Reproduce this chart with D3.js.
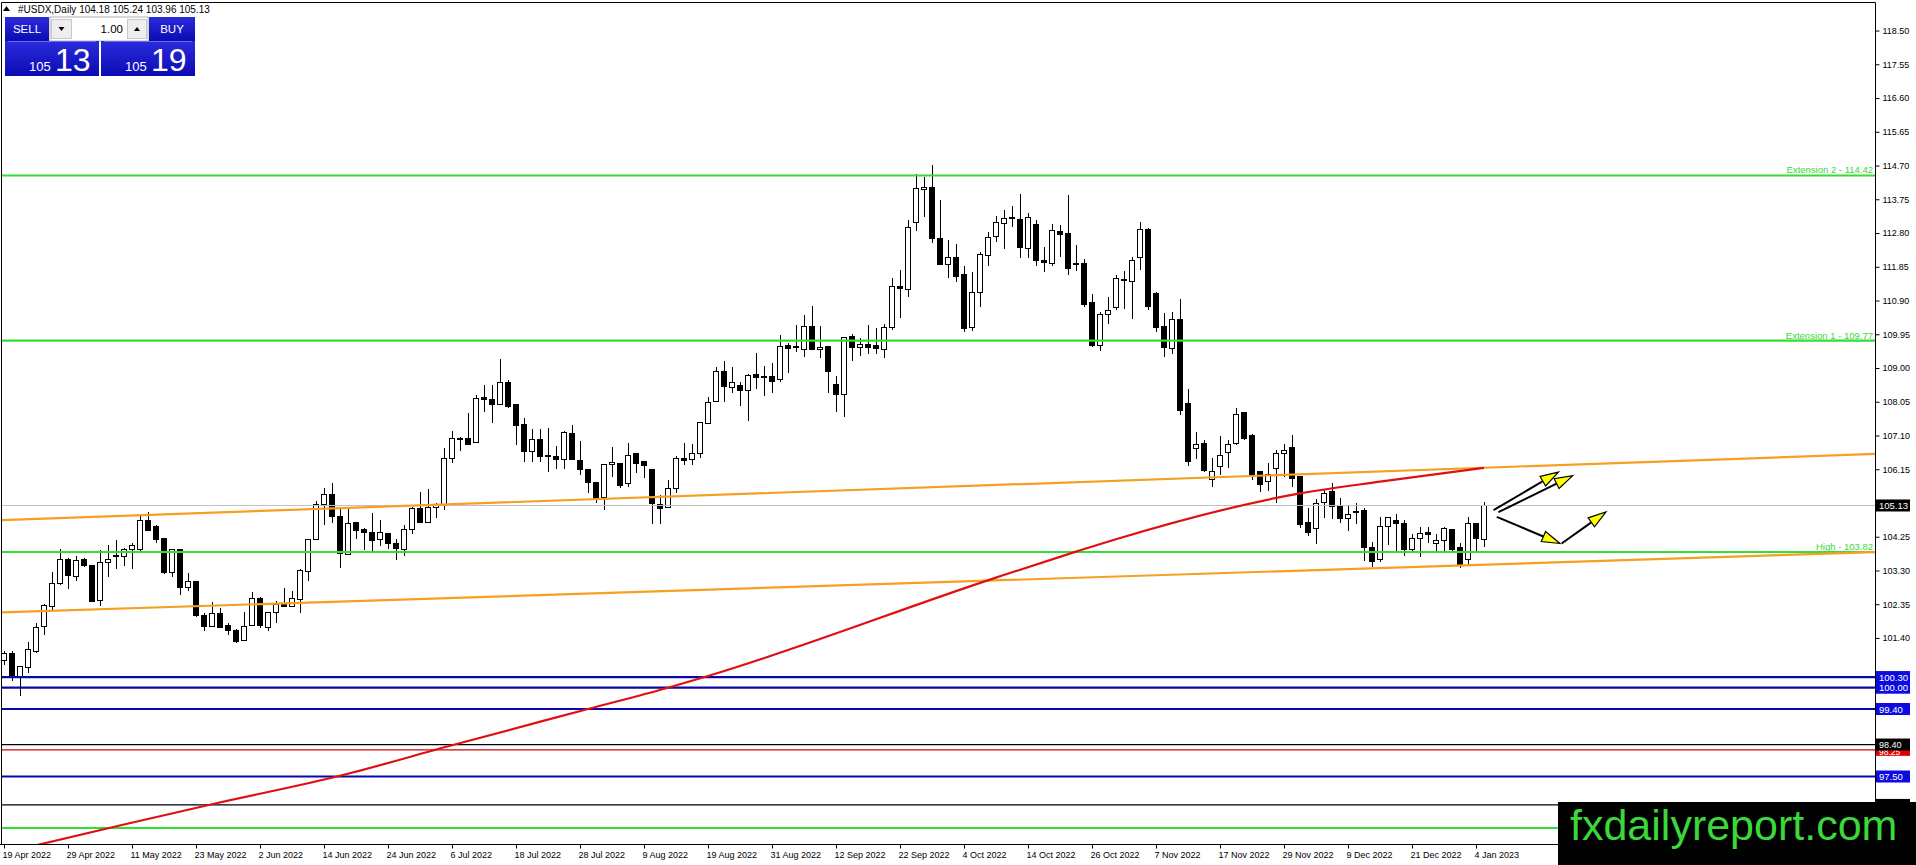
<!DOCTYPE html>
<html>
<head>
<meta charset="utf-8">
<script src="https://cdn.jsdelivr.net/npm/d3@7"></script>
<style>
  html, body { margin: 0; padding: 0; background: #fff; overflow: hidden; }
  svg { display: block; }
  text { font-family: "Liberation Sans", Arial, sans-serif; }
</style>
</head>
<body>
<div id="chart"></div>
<script>
// ---- data ----
const symbol = "#USDX,Daily";
const lastQuote = [104.18, 105.24, 103.96, 105.13];   // O H L C of the current bar
const bidParts = ["105", "13"];
const askParts = ["105", "19"];
const lotSize = "1.00";

// daily bars, 19 Apr 2022 .. 5 Jan 2023 (bar index 0 .. 185)
const opens = [
  100.76,100.97,100.31,100.57,101.02,101.72,102.28,102.94,103.61,103.13,
  103.60,103.43,102.45,103.53,103.69,103.69,103.88,103.88,104.72,104.55,
  104.19,103.24,103.88,102.83,103.00,102.03,101.72,102.09,101.74,101.61,
  101.33,101.74,102.52,101.70,102.11,102.38,102.28,102.49,103.27,104.18,
  105.16,105.45,104.83,103.76,104.65,104.44,104.37,104.18,104.35,104.07,
  103.90,104.46,105.05,104.65,105.07,105.14,106.46,107.02,107.02,106.90,
  108.17,108.10,107.98,108.60,107.96,107.40,106.65,106.99,106.55,106.50,
  106.43,107.16,106.41,106.13,105.77,105.35,106.29,106.32,105.74,106.58,
  106.36,106.13,105.17,105.08,105.61,106.46,106.43,106.60,107.44,108.06,
  108.90,108.46,108.51,108.38,108.82,108.72,108.76,108.67,109.62,109.58,
  109.53,110.17,109.51,109.60,108.54,108.26,109.88,109.58,109.67,109.62,
  109.53,110.15,111.29,111.22,113.11,114.03,114.09,112.65,111.90,112.12,
  111.62,110.15,111.12,112.17,112.70,113.08,113.21,113.19,112.37,113.03,
  112.04,111.95,112.84,112.79,111.95,111.95,110.85,109.63,110.52,110.71,
  111.48,111.43,112.12,112.91,111.09,110.17,109.56,110.37,108.01,106.74,
  106.88,105.85,106.22,106.62,106.88,107.76,107.09,106.08,105.80,106.18,
  106.60,106.77,105.94,104.66,104.49,105.22,105.52,105.10,104.77,104.95,
  104.98,103.94,103.60,104.53,104.72,104.63,103.90,104.19,104.36,104.06,
  104.14,104.44,103.95,103.61,104.63,104.18
];
const highs = [
  101.02,101.02,100.62,101.30,101.81,102.35,103.27,103.90,103.65,103.71,
  103.64,103.45,103.88,104.02,104.16,103.93,104.07,104.86,104.96,104.58,
  104.20,103.90,103.90,103.22,103.00,102.10,102.40,102.25,101.81,101.65,
  102.14,102.69,102.56,102.14,102.45,102.80,102.73,103.33,104.18,105.25,
  105.61,105.76,105.10,105.02,104.65,104.49,104.91,104.72,104.35,104.18,
  104.58,105.10,105.50,105.60,105.21,106.74,107.23,107.07,107.73,108.24,
  108.52,108.52,109.26,108.66,107.96,107.58,107.27,107.27,107.30,106.80,
  107.23,107.40,106.95,106.13,105.77,106.29,106.79,106.32,106.88,106.60,
  106.37,106.16,105.43,105.85,106.52,106.88,106.86,107.49,108.18,109.04,
  109.21,109.04,108.62,108.83,109.42,109.06,109.13,109.93,109.70,110.21,
  110.49,110.75,110.17,109.60,108.78,109.88,109.96,109.84,110.21,110.12,
  110.24,111.53,111.76,113.17,114.46,114.39,114.72,113.73,112.61,112.48,
  111.86,111.69,112.26,112.84,113.28,113.45,113.55,113.89,113.36,113.17,
  112.40,113.06,113.03,113.87,112.46,112.06,111.09,110.59,111.01,111.62,
  111.74,112.12,113.10,112.93,111.15,110.54,110.59,110.94,108.40,107.21,
  106.97,106.46,107.09,106.98,107.87,107.76,107.14,106.08,106.32,106.69,
  106.85,107.11,105.94,105.07,105.31,105.57,105.75,105.35,105.14,105.19,
  105.05,104.11,104.81,104.81,104.88,104.72,104.34,104.53,104.53,104.34,
  104.53,104.44,104.06,104.81,104.63,105.24
];
const lows = [
  100.64,100.19,99.77,100.40,100.99,101.47,102.19,102.90,102.77,103.00,
  103.40,102.42,102.30,103.13,103.34,103.43,103.33,103.83,104.42,104.08,
  103.19,103.13,102.61,102.73,102.00,101.61,101.72,101.69,101.49,101.25,
  101.33,101.74,101.67,101.61,101.81,102.28,102.28,102.11,102.99,104.18,
  104.58,104.63,103.38,103.76,104.18,103.88,103.85,103.99,103.90,103.60,
  103.71,104.32,104.65,104.65,104.77,104.99,106.32,106.65,106.85,106.88,
  107.77,107.44,107.98,107.87,106.83,106.34,106.34,106.36,106.06,106.15,
  106.15,106.43,105.99,105.49,105.19,104.99,105.92,105.61,105.66,106.04,
  105.91,104.61,104.61,105.05,105.47,106.27,106.27,106.46,107.43,108.03,
  108.03,108.31,107.93,107.52,108.40,108.21,108.31,108.62,108.87,109.46,
  109.32,109.51,109.28,108.31,107.75,107.63,109.21,109.35,109.40,109.40,
  109.28,110.07,110.40,111.01,112.87,113.26,112.51,111.92,111.53,111.41,
  110.00,110.03,110.71,111.87,112.56,112.34,112.98,112.09,112.09,111.86,
  111.71,111.86,112.12,111.62,111.74,110.71,109.58,109.49,110.24,110.64,
  110.65,110.37,111.76,110.64,110.00,109.30,109.40,107.68,106.24,106.43,
  106.06,105.66,105.99,106.18,106.83,106.96,105.85,105.52,105.55,105.21,
  105.94,105.66,104.50,104.28,104.04,104.79,104.75,104.63,104.41,104.60,
  103.57,103.41,103.55,104.02,103.78,103.72,103.85,103.69,104.06,103.85,
  103.85,103.85,103.36,103.45,103.78,103.96
];
const closes = [
  100.97,100.31,100.59,101.08,101.70,102.32,102.94,103.61,103.15,103.57,
  103.44,102.44,103.53,103.61,103.71,103.90,103.99,104.72,104.42,104.16,
  103.24,103.88,102.83,102.99,102.03,101.72,102.09,101.69,101.61,101.30,
  101.72,102.52,101.74,102.11,102.35,102.28,102.52,103.29,104.16,105.16,
  105.43,104.82,103.78,104.61,104.42,104.37,104.14,104.38,104.07,103.91,
  104.46,105.05,104.65,105.08,105.12,106.46,107.02,107.00,106.85,108.15,
  108.12,107.98,108.60,107.91,107.38,106.65,106.99,106.51,106.50,106.43,
  107.19,106.43,106.13,105.77,105.33,106.29,106.35,105.68,106.55,106.32,
  106.25,105.19,105.05,105.61,106.46,106.40,106.60,107.47,108.03,108.90,
  108.48,108.60,108.38,108.79,108.73,108.76,108.62,109.60,109.55,109.60,
  110.17,109.53,109.58,108.90,108.26,109.87,109.58,109.67,109.58,109.55,
  110.15,111.29,111.25,112.95,114.06,114.09,112.65,111.92,112.12,111.57,
  110.12,111.12,112.20,112.68,113.11,113.22,113.23,112.39,113.24,112.02,
  111.98,112.86,112.77,111.81,111.90,110.80,109.63,110.52,110.63,111.53,
  111.50,112.04,112.91,110.73,110.15,109.58,110.37,107.80,106.37,106.85,
  106.11,106.08,106.53,106.84,107.68,107.02,105.99,105.73,105.99,106.58,
  106.69,105.89,104.60,104.37,105.19,105.47,105.10,104.77,104.88,104.97,
  103.94,103.55,104.53,104.79,104.63,103.90,104.20,104.34,104.30,104.14,
  104.49,103.90,103.44,104.63,104.19,105.13
];

const dateTicks = ["19 Apr 2022","29 Apr 2022","11 May 2022","23 May 2022","2 Jun 2022",
  "14 Jun 2022","24 Jun 2022","6 Jul 2022","18 Jul 2022","28 Jul 2022","9 Aug 2022",
  "19 Aug 2022","31 Aug 2022","12 Sep 2022","22 Sep 2022","4 Oct 2022","14 Oct 2022",
  "26 Oct 2022","7 Nov 2022","17 Nov 2022","29 Nov 2022","9 Dec 2022","21 Dec 2022","4 Jan 2023"];
const dateTickBars = [0,8,16,24,32,40,48,56,64,72,80,88,96,104,112,120,128,136,144,152,160,168,176,184];

const priceTicks = [118.50,117.55,116.60,115.65,114.70,113.75,112.80,111.85,110.90,109.95,
  109.00,108.05,107.10,106.15,105.20,104.25,103.30,102.35,101.40,100.45,99.50,98.55,97.60,96.65];

// horizontal levels
const greenLevels = [114.42, 109.77, 103.82, 96.05];
const greenLabels = ["Extension 2 - 114.42", "Extension 1 - 109.77", "High - 103.82", ""];
const blueLevels = [100.30, 100.00, 99.40, 97.50];
const blackLevels = [98.40, 96.70];
const redLevels = [98.25];

// channel trendlines, [bar index, price]
const upperChannel = [[0, 104.72], [230, 106.55]];
const lowerChannel = [[0, 102.12], [230, 103.79]];

// 200-day moving average, [bar index, price]
const sma200 = [[0, 95.35], [15, 96.15], [26, 96.72], [42, 97.52], [56, 98.38], [73, 99.40],
  [83, 100.00], [88, 100.33], [124, 103.10], [134, 103.83], [139, 104.18], [162, 105.47],
  [172, 105.80], [185, 106.19]];

// drawn arrows, [bar index, price]
const arrowFrom = [[186.2, 105.00], [186.8, 104.94], [186.6, 104.81], [194.7, 104.06]];
const arrowTo   = [[194.3, 106.07], [196.1, 105.97], [194.5, 104.06], [200.25, 104.95]];

// ---- layout ----
const W = 1916, H = 865;
const plotRight = 1875, plotBottom = 844;
const markTop = 802;   // top of the watermark box

const svg = d3.select("#chart").append("svg")
    .attr("width", W)
    .attr("height", H);

svg.append("rect").attr("width", W).attr("height", H).attr("fill", "#fff");

const xScale = d3.scaleLinear().domain([0, 185]).range([4, 1484]);
const yScale = d3.scaleLinear().domain([95.60, 119.36]).range([plotBottom, 0]);

svg.append("clipPath").attr("id", "plotClip")
    .append("rect").attr("x", 2).attr("y", 2).attr("width", plotRight - 2).attr("height", plotBottom - 2);

const plot = svg.append("g").attr("clip-path", "url(#plotClip)");

// candles
const bars = d3.range(opens.length).map(i => ({
    i, o: opens[i], h: highs[i], l: lows[i], c: closes[i]
}));

const candles = plot.append("g").attr("shape-rendering", "crispEdges");

candles.selectAll(".wick")
    .data(bars)
    .enter()
    .append("line")
    .attr("class", "wick")
    .attr("x1", d => xScale(d.i))
    .attr("x2", d => xScale(d.i))
    .attr("y1", d => yScale(d.h))
    .attr("y2", d => yScale(d.l))
    .attr("stroke", "#000")
    .attr("stroke-width", 1);

candles.selectAll(".body")
    .data(bars)
    .enter()
    .append("rect")
    .attr("class", "body")
    .attr("x", d => xScale(d.i) - 2.5)
    .attr("width", 5)
    .attr("y", d => yScale(Math.max(d.o, d.c)))
    .attr("height", d => Math.max(1, yScale(Math.min(d.o, d.c)) - yScale(Math.max(d.o, d.c))))
    .attr("fill", d => d.c >= d.o ? "#fff" : "#000")
    .attr("stroke", "#000")
    .attr("stroke-width", 1);

// horizontal levels
function hLine(v, color, width) {
    plot.append("line")
        .attr("x1", 0).attr("x2", plotRight)
        .attr("y1", yScale(v)).attr("y2", yScale(v))
        .attr("stroke", color)
        .attr("stroke-width", width);
}

hLine(lastQuote[3], "#c0c0c0", 1);
blueLevels.forEach(v => hLine(v, "#0808a8", 2.2));
blackLevels.forEach(v => hLine(v, "#000", 1.2));
redLevels.forEach(v => hLine(v, "#d40000", 1.2));
greenLevels.forEach(v => hLine(v, "#33dd33", 2.2));

greenLabels.forEach((t, k) => {
    if (!t) return;
    plot.append("text")
        .attr("x", plotRight - 2)
        .attr("y", yScale(greenLevels[k]) - 2)
        .attr("text-anchor", "end")
        .style("font-size", "9.5px")
        .attr("fill", "#3ad63a")
        .text(t);
});

// channel lines, extended across the plot
function ray(pts, color) {
    const [[i0, v0], [i1, v1]] = pts;
    const at = i => v0 + (v1 - v0) * (i - i0) / (i1 - i0);
    const a = -2, b = xScale.invert(plotRight) + 2;
    plot.append("line")
        .attr("x1", xScale(a)).attr("y1", yScale(at(a)))
        .attr("x2", xScale(b)).attr("y2", yScale(at(b)))
        .attr("stroke", color)
        .attr("stroke-width", 2.2);
}
ray(upperChannel, "#f5a021");
ray(lowerChannel, "#f5a021");

// 200 MA
const maLine = d3.line()
    .x(d => xScale(d[0]))
    .y(d => yScale(d[1]))
    .curve(d3.curveMonotoneX);

plot.append("path")
    .datum(sma200)
    .attr("fill", "none")
    .attr("stroke", "#e01010")
    .attr("stroke-width", 2.2)
    .attr("d", maLine);

// arrows
arrowFrom.forEach((p, k) => {
    const q = arrowTo[k];
    const x1 = xScale(p[0]), y1 = yScale(p[1]);
    const x2 = xScale(q[0]), y2 = yScale(q[1]);
    const len = Math.hypot(x2 - x1, y2 - y1);
    const ux = (x2 - x1) / len, uy = (y2 - y1) / len;
    const L = 18, Wd = 5.5;
    const bx = x2 - ux * L, by = y2 - uy * L;
    plot.append("line")
        .attr("x1", x1).attr("y1", y1)
        .attr("x2", bx).attr("y2", by)
        .attr("stroke", "#000")
        .attr("stroke-width", 2);
    plot.append("path")
        .attr("d", `M${x2},${y2}L${bx - uy * Wd},${by + ux * Wd}L${bx + uy * Wd},${by - ux * Wd}Z`)
        .attr("fill", "#ffff00")
        .attr("stroke", "#000")
        .attr("stroke-width", 1.2);
});

// frame
svg.append("path")
    .attr("d", `M1.5,${plotBottom}V2.5H${plotRight + 0.5}V${plotBottom + 0.5}H0`)
    .attr("fill", "none")
    .attr("stroke", "#000")
    .attr("stroke-width", 1);

// price axis; tick labels that sit under a price tag are left blank
const tagLevels = [...redLevels, ...blackLevels, ...blueLevels, lastQuote[3]];
const underTag = v => tagLevels.some(t => Math.abs(yScale(t) - yScale(v)) < 11);

const yAxis = svg.append("g")
    .attr("transform", `translate(${plotRight + 0.5},0)`)
    .call(d3.axisRight(yScale).tickValues(priceTicks).tickSize(4)
        .tickFormat(d => underTag(d) ? "" : d3.format(".2f")(d)));
yAxis.select(".domain").remove();
yAxis.selectAll("text").style("font-size", "9px").attr("fill", "#000")
    .style("font-family", "'Liberation Sans', Arial, sans-serif");

// date axis
const xAxis = svg.append("g")
    .attr("transform", `translate(0,${plotBottom + 0.5})`)
    .call(d3.axisBottom(xScale).tickValues(dateTickBars).tickSize(4).tickFormat((d, k) => dateTicks[k]));
xAxis.select(".domain").remove();
xAxis.selectAll("text")
    .style("font-size", "9px")
    .style("font-family", "'Liberation Sans', Arial, sans-serif")
    .attr("fill", "#000")
    .attr("text-anchor", "start")
    .attr("dx", "-2");

// price tags on the axis (a tag hidden by the watermark gets no text)
function tag(v, bg, dy, size) {
    const y = yScale(v);
    svg.append("rect")
        .attr("x", plotRight + 1).attr("y", y - 6)
        .attr("width", 34).attr("height", 12)
        .attr("fill", bg);
    if (y > markTop - 2) return;
    svg.append("text")
        .attr("x", plotRight + 4).attr("y", y + dy)
        .style("font-size", size)
        .attr("fill", "#fff")
        .text(v.toFixed(2));
}
redLevels.forEach(v => tag(v, "#e00000", 5.5, "8.5px"));
blackLevels.forEach(v => tag(v, "#000", 3, "9px"));
blueLevels.forEach(v => tag(v, "#0c0ce0", 3.5, "9.5px"));
tag(lastQuote[3], "#000", 3.5, "9.5px");

// header line
svg.append("path").attr("d", "M3,11L6.5,6L10,11Z").attr("fill", "#000");
svg.append("text")
    .attr("x", 18).attr("y", 13)
    .style("font-size", "10px")
    .attr("fill", "#000")
    .text(`${symbol}  ${lastQuote.map(d => d.toFixed(2)).join(" ")}`);

// one-click trading panel
const panel = svg.append("g");
const grad = svg.append("defs").append("linearGradient")
    .attr("id", "btnBlue").attr("x1", 0).attr("x2", 0).attr("y1", 0).attr("y2", 1);
grad.append("stop").attr("offset", "0%").attr("stop-color", "#2b2bdc");
grad.append("stop").attr("offset", "100%").attr("stop-color", "#0b0bb4");

panel.append("rect").attr("x", 5).attr("y", 17).attr("width", 44).attr("height", 24).attr("fill", "url(#btnBlue)");
panel.append("rect").attr("x", 149).attr("y", 17).attr("width", 46).attr("height", 24).attr("fill", "url(#btnBlue)");
panel.append("text").attr("x", 27).attr("y", 33).attr("text-anchor", "middle")
    .style("font-size", "11.5px").attr("fill", "#fff").text("SELL");
panel.append("text").attr("x", 172).attr("y", 33).attr("text-anchor", "middle")
    .style("font-size", "11.5px").attr("fill", "#fff").text("BUY");

panel.append("rect").attr("x", 50).attr("y", 17).attr("width", 98).attr("height", 24)
    .attr("fill", "#fff").attr("stroke", "#b0b0b0");
panel.append("rect").attr("x", 51.5).attr("y", 19.5).attr("width", 20).attr("height", 19)
    .attr("fill", "#eeeeee").attr("stroke", "#c8c8c8");
panel.append("rect").attr("x", 127.5).attr("y", 19.5).attr("width", 19).attr("height", 19)
    .attr("fill", "#eeeeee").attr("stroke", "#c8c8c8");
panel.append("path").attr("d", "M58.5,27L64.5,27L61.5,31Z").attr("fill", "#000");
panel.append("path").attr("d", "M134,31L140,31L137,27Z").attr("fill", "#000");
panel.append("text").attr("x", 123).attr("y", 33).attr("text-anchor", "end")
    .style("font-size", "11.5px").attr("fill", "#000").text(lotSize);

panel.append("rect").attr("x", 5).attr("y", 41).attr("width", 94).attr("height", 35).attr("fill", "url(#btnBlue)");
panel.append("rect").attr("x", 101).attr("y", 41).attr("width", 94).attr("height", 35).attr("fill", "url(#btnBlue)");
panel.append("line").attr("x1", 8).attr("x2", 96).attr("y1", 41.5).attr("y2", 41.5).attr("stroke", "#6a6af0");
panel.append("line").attr("x1", 104).attr("x2", 192).attr("y1", 41.5).attr("y2", 41.5).attr("stroke", "#6a6af0");

[[bidParts, 29, 55], [askParts, 125, 151]].forEach(([parts, xs, xb]) => {
    panel.append("text").attr("x", xs).attr("y", 71)
        .style("font-size", "13px").attr("fill", "#fff").text(parts[0]);
    panel.append("text").attr("x", xb).attr("y", 71)
        .style("font-size", "32px").attr("fill", "#fff").text(parts[1]);
});

// watermark
svg.append("rect").attr("x", 1558).attr("y", markTop).attr("width", W - 1558).attr("height", H - markTop).attr("fill", "#000");
svg.append("text")
    .attr("x", 1570).attr("y", 840)
    .style("font-size", "43px")
    .attr("fill", "#3bd83b")
    .text("fxdailyreport.com");
</script>
</body>
</html>
